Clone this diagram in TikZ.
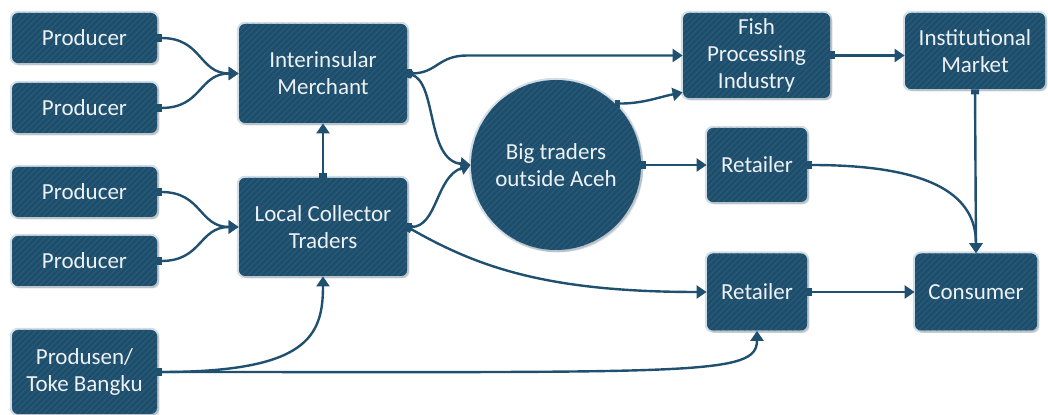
\documentclass[tikz,border=0pt]{standalone}
\usepackage{tikz}
\usepackage{fontspec}
\setmainfont{Carlito}
\usetikzlibrary{arrows.meta,patterns,shadows}

\definecolor{boxblue}{HTML}{1E4E6C}
\definecolor{stripeblue}{HTML}{2A5C7C}
\definecolor{lineblue}{HTML}{1F5070}
\definecolor{rimblue}{HTML}{D2DEE7}

\begin{document}
\begin{tikzpicture}[x=0.5pt,y=-0.5pt,
  box/.style 2 args={rectangle,rounded corners=3pt,fill=boxblue,
    preaction={draw=rimblue,line width=2.2pt},
    postaction={pattern=north east lines,pattern color=stripeblue},
    drop shadow={shadow xshift=1.2pt,shadow yshift=-1.2pt,fill=black,opacity=0.12},
    text=white!92!boxblue,align=center,font=\fontsize{11.5}{13.5}\selectfont,inner sep=0pt,
    minimum width=#1*0.5pt,minimum height=#2*0.5pt},
  hub/.style={circle,fill=boxblue,
    preaction={draw=rimblue,line width=2.2pt},
    postaction={pattern=north east lines,pattern color=stripeblue},
    drop shadow={shadow xshift=1.2pt,shadow yshift=-1.2pt,fill=black,opacity=0.12},
    text=white!92!boxblue,align=center,font=\fontsize{11.5}{13.5}\selectfont,inner sep=0pt,
    minimum size=170*0.5pt},
  flow/.style={draw=lineblue,line width=1.2pt,
    {Square[length=2.5pt,width=4pt]}-{Triangle[length=5pt,width=6.5pt]}}]
\useasboundingbox (0,0) rectangle (1048,415);

\node[box={145}{50}] (prodA) at (84.5,38) {Producer};
\node[box={145}{50}] (prodB) at (84.5,108) {Producer};
\node[box={145}{50}] (prodC) at (84.5,192) {Producer};
\node[box={145}{50}] (prodD) at (84.5,261) {Producer};
\node[box={145}{84}] (produsen) at (84.5,372) {Produsen/\\Toke Bangku};

\node[box={168}{99}] (merchant) at (323,73.5) {Interinsular\\Merchant};
\node[box={168}{98}] (collector) at (323,227) {Local Collector\\Traders};
\node[hub] (bigtrader) at (556,165) {Big traders\\outside Aceh};

\node[box={147}{85}] (fish) at (756.5,55.5) {Fish\\Processing\\Industry};
\node[box={140}{76}] (inst) at (975,51) {Institutional\\Market};
\node[box={100}{74}] (retA) at (757,165) {Retailer};
\node[box={100}{77}] (retB) at (757,292) {Retailer};
\node[box={122}{77}] (consumer) at (976,292) {Consumer};

\draw[flow] (prodA.east) .. controls +(45,0) and +(-40,0) .. (merchant.west);
\draw[flow] (prodB.east) .. controls +(45,0) and +(-40,0) .. (merchant.west);
\draw[flow] (prodC.east) .. controls +(45,0) and +(-40,0) .. (collector.west);
\draw[flow] (prodD.east) .. controls +(45,0) and +(-40,0) .. (collector.west);
\draw[flow] (collector.north) -- (merchant.south);
\draw[flow] (produsen.east) .. controls +(150,0) and +(0,60) .. (collector.south);
\draw[flow] (produsen.east) .. controls +(540,0) and +(0,45) .. (retB.south);

\draw[flow] (merchant.east) .. controls +(30,0) and +(-30,0) .. ++(60,-18) -- (fish.west);
\draw[flow] (merchant.east) .. controls +(30,8) and +(-45,-5) .. (bigtrader.west);
\draw[flow] (collector.east) .. controls +(30,0) and +(-35,12) .. (bigtrader.west);
\draw[flow] (collector.east) .. controls +(70,40) and +(-160,0) .. (retB.west);

\draw[flow] (bigtrader.46) .. controls +(28,0) and +(-25,5) .. ([yshift=3pt]fish.south west);
\draw[flow] (bigtrader.east) -- (retA.west);
\draw[flow] (fish.east) -- (fish.east -| inst.west);
\draw[flow] (inst.south) -- (consumer.north);
\draw[flow] (retA.east) .. controls +(130,0) and +(0,-55) .. (consumer.north);
\draw[flow] (retB.east) -- (consumer.west);
\end{tikzpicture}
\end{document}
